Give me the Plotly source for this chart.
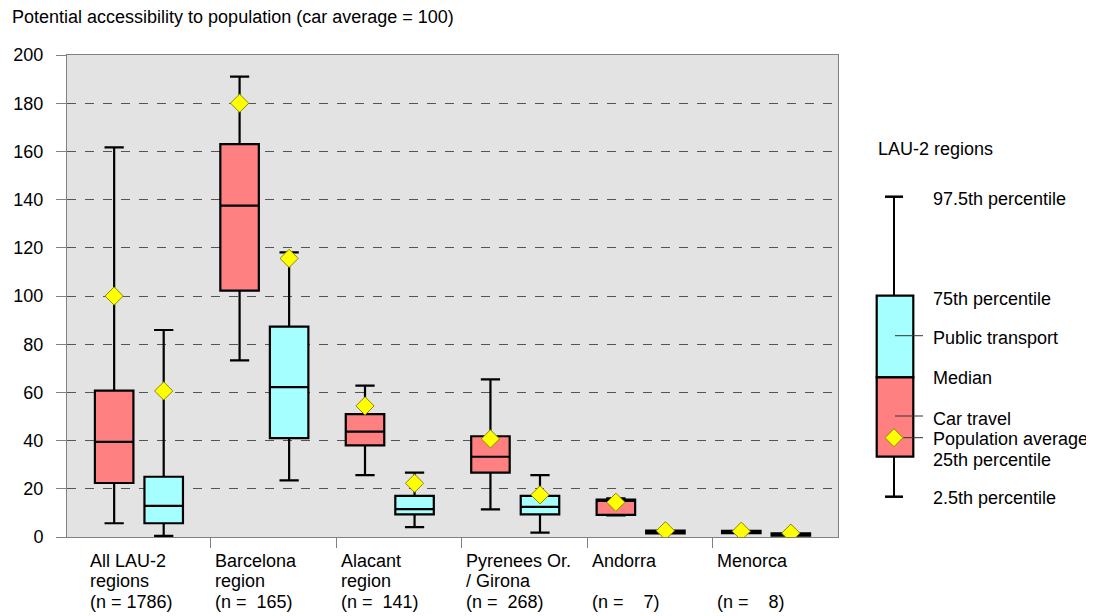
import plotly.graph_objects as go

# ---------------- data ----------------
categories = ["All LAU-2\nregions\n(n = 1786)",
              "Barcelona\nregion\n(n =\u00a0\u00a0165)",
              "Alacant\nregion\n(n =\u00a0\u00a0141)",
              "Pyrenees Or.\n/ Girona\n(n =\u00a0\u00a0268)",
              "Andorra\n\n(n =\u00a0\u00a0\u00a0\u00a07)",
              "Menorca\n\n(n =\u00a0\u00a0\u00a0\u00a08)"]

car_p025 = [5.7, 73.3, 25.7, 11.5, 9.0, 1.6]
car_q1 = [22.4, 102.2, 38.0, 26.7, 9.2, 1.6]
car_med = [39.5, 137.5, 43.7, 33.3, 15.0, 2.1]
car_q3 = [60.7, 163.0, 51.0, 41.8, 15.5, 2.6]
car_p975 = [161.7, 191.0, 62.8, 65.4, 16.0, 2.6]
car_avg = [100.0, 180.0, 54.4, 40.7, 14.4, 2.4]

pt_p025 = [0.5, 23.5, 4.1, 1.8, 1.5, 0.6]
pt_q1 = [5.7, 41.0, 9.4, 9.4, 1.5, 0.6]
pt_med = [12.9, 62.2, 11.6, 12.5, 2.1, 1.0]
pt_q3 = [25.0, 87.3, 17.1, 17.1, 2.7, 1.5]
pt_p975 = [85.9, 118.1, 26.7, 25.7, 2.7, 1.5]
pt_avg = [60.6, 115.6, 22.3, 17.5, 2.6, 1.6]

y_ticks = [0, 20, 40, 60, 80, 100, 120, 140, 160, 180, 200]

legend_labels = ["97.5th percentile", "75th percentile", "Public transport", "Median",
                 "Car travel", "Population average", "25th percentile", "2.5th percentile"]

# ---------------- style ----------------
FONT = "Liberation Sans, Arial, sans-serif"
FS = 18
CAR = "#ff8080"
PT = "#a6ffff"
CAR_OFF, PT_OFF = 0.229, 0.624
BOXW = 0.307

OX, OY = 8, 8                      # page offset of the plot div
W, H = 1094 - OX, 616 - OY
PL, PT_, PR, PB = 67, 55, 838, 537  # target plot area in page pixels
ML, MT = PL - OX, PT_ - OY
PW, PH = PR - PL, PB - PT_
MR, MB = W - ML - PW, H - MT - PH

fig = go.Figure()

def add_boxes(off, q1, med, q3, lo, hi, color):
    for k in range(len(categories)):
        fig.add_trace(go.Box(
            x=[k + off], q1=[q1[k]], median=[med[k]], q3=[q3[k]],
            lowerfence=[lo[k]], upperfence=[hi[k]],
            fillcolor=color, line=dict(color="black", width=2.2),
            width=BOXW, whiskerwidth=0.5, boxpoints=False,
            showlegend=False, hoverinfo="skip"))

add_boxes(CAR_OFF, car_q1, car_med, car_q3, car_p025, car_p975, CAR)
add_boxes(PT_OFF, pt_q1, pt_med, pt_q3, pt_p025, pt_p975, PT)

xs = [k + CAR_OFF for k in range(len(categories))] + [k + PT_OFF for k in range(len(categories))]
fig.add_trace(go.Scatter(
    x=xs, y=car_avg + pt_avg, mode="markers",
    marker=dict(symbol="diamond", size=14, color="#ffff00",
                line=dict(color="#8a8a00", width=1)),
    showlegend=False, hoverinfo="skip"))

# category labels (one annotation per line, 20 px line spacing)
line_shift = [-24, -44, -65]
for k, lab in enumerate(categories):
    for j, part in enumerate(lab.split("\n")):
        if not part:
            continue
        fig.add_annotation(x=k + 0.02, xref="x", y=0, yref="paper", yanchor="middle",
                           xanchor="left", align="left", text=part, showarrow=False,
                           yshift=line_shift[j],
                           font=dict(family=FONT, size=FS, color="black"))

# ---------------- legend illustration (page pixel -> paper) ----------------
def px(x):
    return (x - PL) / PW

def py(y):
    return (PB - y) / PH

shapes = []
def line(x0, y0, x1, y1, w=2, c="black"):
    shapes.append(dict(type="line", xref="paper", yref="paper", x0=px(x0), y0=py(y0),
                       x1=px(x1), y1=py(y1), line=dict(color=c, width=w)))

line(894, 196.7, 894, 496.7)
line(885, 196.7, 903, 196.7, 2.5)
line(885, 496.7, 903, 496.7, 2.5)
shapes.append(dict(type="rect", xref="paper", yref="paper", x0=px(876.7), x1=px(913.3),
                   y0=py(377.3), y1=py(295.7), fillcolor=PT, line=dict(color="black", width=2.2)))
shapes.append(dict(type="rect", xref="paper", yref="paper", x0=px(876.7), x1=px(913.3),
                   y0=py(456.7), y1=py(377.3), fillcolor=CAR, line=dict(color="black", width=2.2)))
line(895, 335.7, 923, 335.7, 1, "#333")
line(895, 416, 923, 416, 1, "#333")
line(903, 437.7, 923, 437.7, 1, "#333")
cx, cy, r = 894, 437.7, 9
path = (f"M {px(cx - r)} {py(cy)} L {px(cx)} {py(cy - r)} L {px(cx + r)} {py(cy)} "
        f"L {px(cx)} {py(cy + r)} Z")
shapes.append(dict(type="path", xref="paper", yref="paper", path=path,
                   fillcolor="#ffff00", line=dict(color="#8a8a00", width=1)))

legend_y = [199, 299, 338, 378, 419, 439, 460, 498]
for lab, yy in zip(legend_labels, legend_y):
    fig.add_annotation(x=px(931), y=py(yy), xref="paper", yref="paper", xanchor="left",
                       yanchor="middle", text=lab, showarrow=False,
                       font=dict(family=FONT, size=FS, color="black"))
fig.add_annotation(x=px(876), y=py(149), xref="paper", yref="paper", xanchor="left",
                   yanchor="middle", text="LAU-2 regions", showarrow=False,
                   font=dict(family=FONT, size=FS, color="black"))

fig.update_layout(
    width=W, height=H,
    margin=dict(l=ML, r=MR, t=MT, b=MB, autoexpand=False),
    paper_bgcolor="white", plot_bgcolor="#e3e3e3",
    boxmode="overlay",
    shapes=shapes,
    font=dict(family=FONT, size=FS, color="black"),
    title=dict(text="Potential accessibility to population (car average = 100)",
               xref="container", yref="container", x=(12 - OX) / W, xanchor="left",
               y=1 - (17 - OY) / H, yanchor="middle",
               font=dict(family=FONT, size=FS, color="black")),
    xaxis=dict(range=[-0.147, 6.0], tickvals=[1, 2, 3, 4, 5], showticklabels=False,
               ticks="outside", ticklen=10, tickcolor="#808080", tickwidth=1,
               showgrid=False, zeroline=False, showline=True, linecolor="#808080",
               linewidth=1, mirror=True, automargin=False),
    yaxis=dict(range=[0, 200], tickvals=y_ticks, ticks="outside", ticklen=10,
               tickcolor="#808080", tickwidth=1, showgrid=True, gridcolor="#555555",
               griddash="dash", gridwidth=1, zeroline=False, showline=True,
               linecolor="#808080", linewidth=1, mirror=True, ticklabelstandoff=9,
               automargin=False,
               tickfont=dict(family=FONT, size=FS, color="black")),
)

fig.write_html("out.html")
